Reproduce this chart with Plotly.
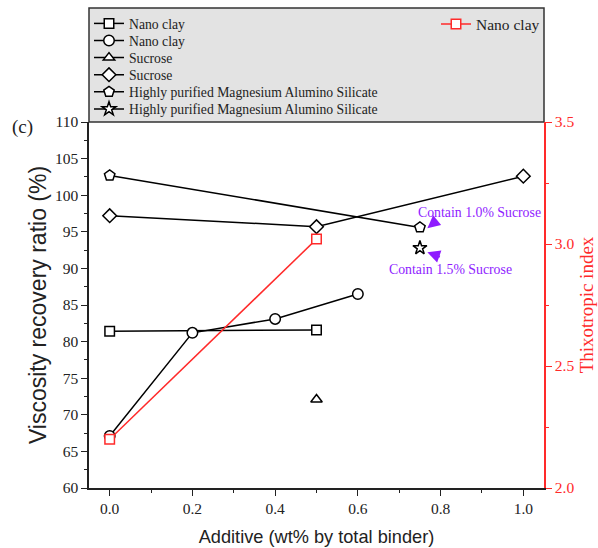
import plotly.graph_objects as go

# Viscosity recovery ratio (%) versus additive dosage (wt% by total binder)
nano_sq_x = [0.0, 0.5]
nano_sq_y = [81.4, 81.6]

nano_ci_x = [0.0, 0.2, 0.4, 0.6]
nano_ci_y = [67.1, 81.2, 83.1, 86.5]

sucrose_tri_x = [0.5]
sucrose_tri_y = [72.1]

sucrose_di_x = [0.0, 0.5, 1.0]
sucrose_di_y = [97.2, 95.7, 102.6]

mas_pent_x = [0.0, 0.75]
mas_pent_y = [102.7, 95.6]

mas_star_x = [0.75]
mas_star_y = [92.8]

# Thixotropic index (right axis)
thixo_x = [0.0, 0.5]
thixo_y = [2.2, 3.02]

SERIF = "Liberation Serif"
SANS = "Liberation Sans"
RED = "#ff2a2a"
PURPLE = "#8f1cff"
INK = "#222222"

W, H = 598, 548
M_L, M_R, M_T, M_B = 89, 54, 122, 60
PLOT_H = H - M_T - M_B
PLOT_W = W - M_L - M_R


def py(px):
    """Paper y coordinate for a pixel row."""
    return (H - M_B - px) / PLOT_H


def pxx(px):
    """Paper x coordinate for a pixel column."""
    return (px - M_L) / PLOT_W


fig = go.Figure()

black_series = [
    (nano_sq_x, nano_sq_y, "Nano clay", "square", 9.5),
    (nano_ci_x, nano_ci_y, "Nano clay", "circle", 10.5),
    (sucrose_tri_x, sucrose_tri_y, "Sucrose", "triangle-up", 10),
    (sucrose_di_x, sucrose_di_y, "Sucrose", "diamond", 10.5),
    (mas_pent_x, mas_pent_y, "Highly purified Magnesium Alumino Silicate", "pentagon", 11),
    (mas_star_x, mas_star_y, "Highly purified Magnesium Alumino Silicate", "star", 10.5),
]

legend_layout = {}
first_row = 23.5
row_step = 17.1
for i, (x, y, name, symbol, size) in enumerate(black_series):
    key = "legend" if i == 0 else f"legend{i + 2}"
    fig.add_trace(go.Scatter(
        x=x, y=y, name=name, mode="lines+markers",
        line=dict(color="black", width=1.5),
        marker=dict(symbol=symbol, size=size, color="white",
                    line=dict(color="black", width=1.5)),
        legend=key,
    ))
    legend_layout[key] = dict(
        x=0.0, y=py(first_row + row_step * i), xanchor="left", yanchor="middle",
        bgcolor="rgba(0,0,0,0)", borderwidth=0,
        font=dict(family=SERIF, size=13.7, color=INK), itemwidth=30,
    )

fig.add_trace(go.Scatter(
    x=thixo_x, y=thixo_y, name="Nano clay", mode="lines+markers", yaxis="y2",
    line=dict(color=RED, width=1.5),
    marker=dict(symbol="square", size=9.5, color="white",
                line=dict(color=RED, width=1.5)),
    legend="legend2",
))
legend_layout["legend2"] = dict(
    x=pxx(545), y=py(24.5), xanchor="right", yanchor="middle",
    bgcolor="rgba(0,0,0,0)", borderwidth=0,
    font=dict(family=SERIF, size=15.5, color=INK), itemwidth=30,
)

# grey legend panel above the plotting area
fig.add_shape(type="rect", xref="paper", yref="paper",
              x0=0, x1=1, y0=1, y1=py(8),
              fillcolor="#e3e3e3", line=dict(color="#333333", width=1.5),
              layer="below")

tick_font = dict(family=SERIF, size=15.5, color=INK)

fig.update_layout(
    width=W, height=H,
    margin=dict(l=M_L, r=M_R, t=M_T, b=M_B, autoexpand=False),
    plot_bgcolor="white", paper_bgcolor="white",
    showlegend=True,
    xaxis=dict(
        range=[-0.05, 1.05], dtick=0.2, tick0=0, tickformat=".1f",
        ticks="outside", ticklen=6, tickwidth=1.2, tickcolor=INK,
        minor=dict(dtick=0.1, tick0=0, ticks="outside", ticklen=3, tickcolor=INK),
        showline=True, linecolor=INK, linewidth=1.5, mirror=False,
        showgrid=False, zeroline=False, tickfont=tick_font, automargin=False,
        title=dict(text="Additive (wt% by total binder)",
                   font=dict(family=SANS, size=18.2, color=INK), standoff=14),
    ),
    yaxis=dict(
        range=[60, 110], dtick=5, tick0=60,
        ticks="outside", ticklen=6, tickwidth=1.2, tickcolor=INK,
        minor=dict(dtick=2.5, tick0=60, ticks="outside", ticklen=3, tickcolor=INK),
        showline=True, linecolor=INK, linewidth=1.5,
        showgrid=False, zeroline=False, tickfont=tick_font, automargin=False,
        title=dict(text="Viscosity recovery ratio (%)",
                   font=dict(family=SANS, size=23, color=INK), standoff=2),
    ),
    yaxis2=dict(
        range=[2.0, 3.5], dtick=0.5, tick0=2.0, tickformat=".1f",
        overlaying="y", side="right",
        ticks="outside", ticklen=6, tickwidth=1.2, tickcolor=RED,
        minor=dict(dtick=0.25, tick0=2.0, ticks="outside", ticklen=3, tickcolor=RED),
        showline=True, linecolor=RED, linewidth=1.5,
        showgrid=False, zeroline=False, automargin=False,
        tickfont=dict(family=SERIF, size=15.5, color=RED),
        title=dict(text="Thixotropic index",
                   font=dict(family=SERIF, size=19, color=RED), standoff=6),
    ),
    **legend_layout,
)

annotations = [
    dict(text="(c)", xref="paper", yref="paper", x=pxx(22), y=py(127),
         xanchor="center", yanchor="middle",
         showarrow=False, font=dict(family=SERIF, size=19, color=INK)),
    dict(text="Contain 1.0% Sucrose", x=0.893, y=97.7, xref="x", yref="y",
         xanchor="center", yanchor="middle",
         showarrow=False, font=dict(family=SERIF, size=13.8, color=PURPLE)),
    dict(text="Contain 1.5% Sucrose", x=0.825, y=89.9, xref="x", yref="y",
         xanchor="center", yanchor="middle",
         showarrow=False, font=dict(family=SERIF, size=13.8, color=PURPLE)),
    dict(text="", x=0.768, y=95.5, xref="x", yref="y",
         showarrow=True, ax=11, ay=-9, arrowhead=2, arrowsize=1.15,
         arrowwidth=2.2, arrowcolor=PURPLE, standoff=0),
    dict(text="", x=0.768, y=92.2, xref="x", yref="y",
         showarrow=True, ax=14, ay=5, arrowhead=2, arrowsize=1.15,
         arrowwidth=2.2, arrowcolor=PURPLE, standoff=0),
]
fig.update_layout(annotations=annotations)

fig.write_html("out.html")
